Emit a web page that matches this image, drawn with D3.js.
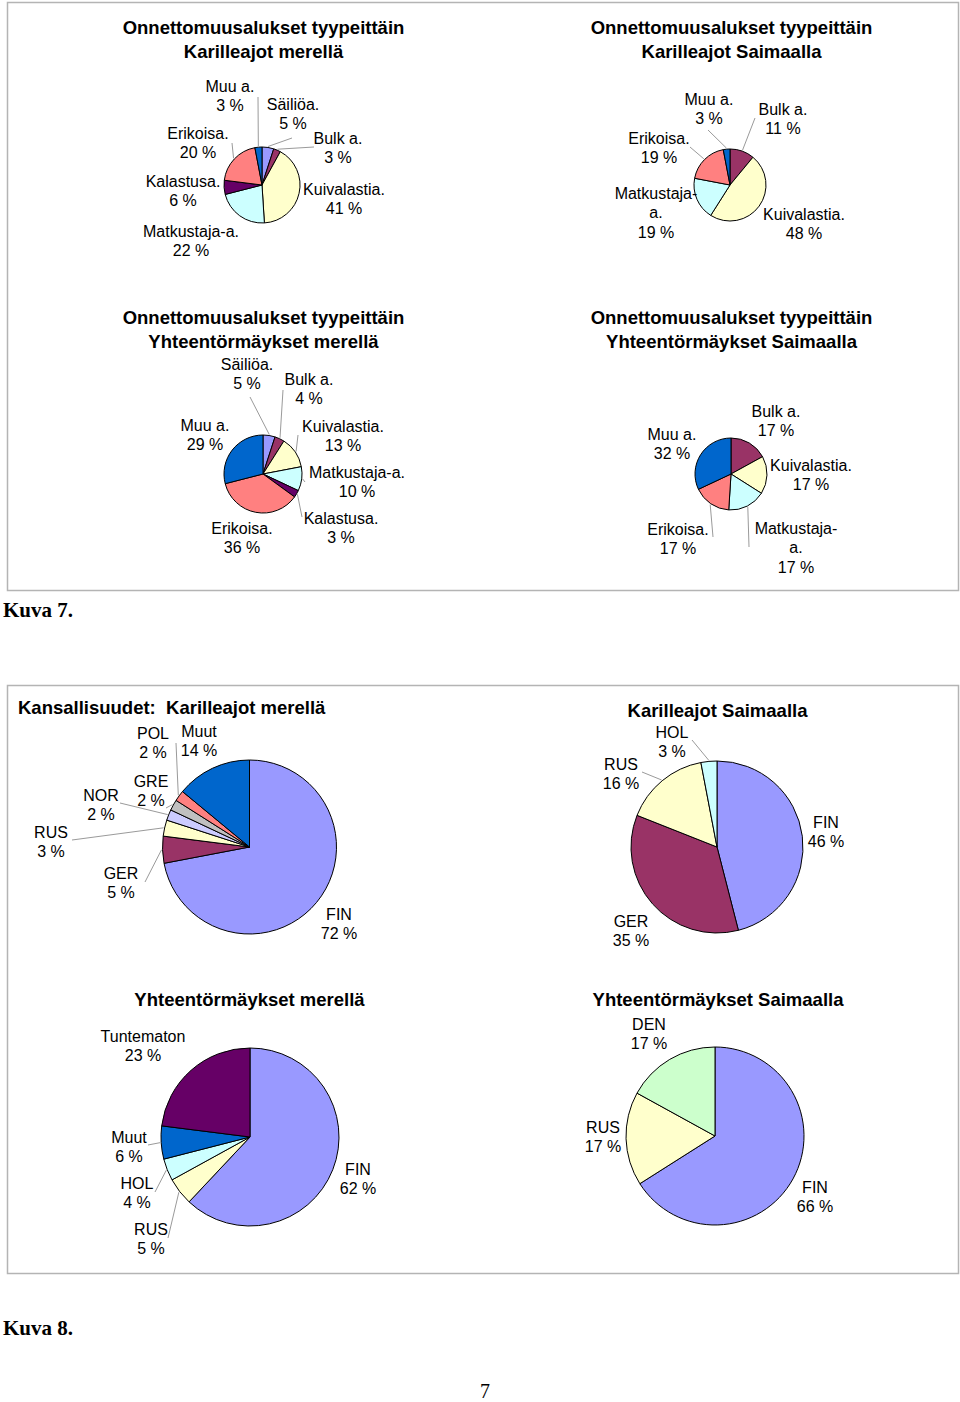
<!DOCTYPE html>
<html>
<head>
<meta charset="utf-8">
<script src="https://cdn.jsdelivr.net/npm/d3@7"></script>
<style>
  body { margin: 0; background: #fff; }
  svg { display: block; }
  text { font-family: "Liberation Sans", Arial, sans-serif; }
</style>
</head>
<body>
<div id="chart"></div>
<script>
// ---- data (percent shares) ----
var shipTypes1 = ["Säiliöa.", "Bulk a.", "Kuivalastia.", "Matkustaja-a.", "Kalastusa.", "Erikoisa.", "Muu a."];
var shipTypes2 = ["Bulk a.", "Kuivalastia.", "Matkustaja-a.", "Erikoisa.", "Muu a."];
var kariMeri = [5, 3, 41, 22, 6, 20, 3];
var kariSaimaa = [11, 48, 19, 19, 3];
var yhtMeri = [5, 4, 13, 10, 3, 36, 29];
var yhtSaimaa = [17, 17, 17, 17, 32];

var nat1 = ["FIN", "GER", "RUS", "NOR", "GRE", "POL", "Muut"];
var natKariMeri = [72, 5, 3, 2, 2, 2, 14];
var nat2 = ["FIN", "GER", "RUS", "HOL"];
var natKariSaimaa = [46, 35, 16, 3];
var nat3 = ["FIN", "RUS", "HOL", "Muut", "Tuntematon"];
var natYhtMeri = [62, 5, 4, 6, 23];
var nat4 = ["FIN", "RUS", "DEN"];
var natYhtSaimaa = [66, 17, 17];

// ---- colours ----
var typeColors1 = ["#9999ff", "#993366", "#ffffcc", "#ccffff", "#660066", "#ff8080", "#0066cc"];
var typeColors2 = ["#993366", "#ffffcc", "#ccffff", "#ff8080", "#0066cc"];
var natColors1 = ["#9999ff", "#993366", "#ffffcc", "#ccccff", "#c0c0c0", "#ff8080", "#0066cc"];
var natColors2 = ["#9999ff", "#993366", "#ffffcc", "#ccffff"];
var natColors3 = ["#9999ff", "#ffffcc", "#ccffff", "#0066cc", "#660066"];
var natColors4 = ["#9999ff", "#ffffcc", "#ccffcc"];

var W = 960, H = 1402;
var svg = d3.select("#chart").append("svg")
    .attr("width", W)
    .attr("height", H);

// frames round the two figures
svg.append("rect").attr("x", 7.5).attr("y", 2.5).attr("width", 951).attr("height", 588)
    .attr("fill", "none").attr("stroke", "#b4b4b4").attr("stroke-width", 1.5);
svg.append("rect").attr("x", 7.5).attr("y", 685.5).attr("width", 951).attr("height", 588)
    .attr("fill", "none").attr("stroke", "#b4b4b4").attr("stroke-width", 1.5);

// layout: pie centre/radius, titles and label spots (lead = where the leader line starts)
var charts = [
  {names: shipTypes1, values: kariMeri, colors: typeColors1, cx: 262, cy: 185, r: 38,
   title: ["Onnettomuusalukset tyypeittäin", "Karilleajot merellä"], tx: 263.5, ty: 28,
   labels: [{x: 293, y: 104, lead: [292, 138]}, {x: 338, y: 138, lead: [314, 147]}, {x: 344, y: 189},
            {x: 191, y: 231}, {x: 183, y: 181}, {x: 198, y: 133, lead: [232, 143]}, {x: 230, y: 86, lead: [258, 97]}]},
  {names: shipTypes2, values: kariSaimaa, colors: typeColors2, cx: 730, cy: 185, r: 36,
   title: ["Onnettomuusalukset tyypeittäin", "Karilleajot Saimaalla"], tx: 731.5, ty: 28,
   labels: [{x: 783, y: 109, lead: [755, 118]}, {x: 804, y: 214}, {x: 656, y: 193, split: true},
            {x: 659, y: 138, lead: [690, 147]}, {x: 709, y: 99, lead: [708, 130]}]},
  {names: shipTypes1, values: yhtMeri, colors: typeColors1, cx: 263, cy: 474, r: 39,
   title: ["Onnettomuusalukset tyypeittäin", "Yhteentörmäykset merellä"], tx: 263.5, ty: 318,
   labels: [{x: 247, y: 364, lead: [250, 397]}, {x: 309, y: 379, lead: [283, 390]}, {x: 343, y: 426, lead: [298, 435]},
            {x: 357, y: 472, lead: [305, 482]}, {x: 341, y: 518, lead: [302, 517]}, {x: 242, y: 528}, {x: 205, y: 425}]},
  {names: shipTypes2, values: yhtSaimaa, colors: typeColors2, cx: 731, cy: 474, r: 36,
   title: ["Onnettomuusalukset tyypeittäin", "Yhteentörmäykset Saimaalla"], tx: 731.5, ty: 318,
   labels: [{x: 776, y: 411}, {x: 811, y: 465}, {x: 796, y: 528, split: true, lead: [749, 547]},
            {x: 678, y: 529, lead: [713, 537]}, {x: 672, y: 434}]},
  {names: nat1, values: natKariMeri, colors: natColors1, cx: 249.5, cy: 847, r: 87,
   title: ["Kansallisuudet:  Karilleajot merellä"], tx: 18, ty: 708, anchor: "start",
   labels: [{x: 339, y: 914}, {x: 121, y: 873, lead: [145, 882]}, {x: 51, y: 832, lead: [72, 840]},
            {x: 101, y: 795, lead: [120, 803]}, {x: 151, y: 781, lead: [166, 808]}, {x: 153, y: 733, lead: [176, 743]},
            {x: 199, y: 731}]},
  {names: nat2, values: natKariSaimaa, colors: natColors2, cx: 717, cy: 847, r: 86,
   title: ["Karilleajot Saimaalla"], tx: 717.5, ty: 711,
   labels: [{x: 826, y: 822}, {x: 631, y: 921}, {x: 621, y: 764, lead: [642, 772]}, {x: 672, y: 732, lead: [692, 740]}]},
  {names: nat3, values: natYhtMeri, colors: natColors3, cx: 250, cy: 1137, r: 89,
   title: ["Yhteentörmäykset merellä"], tx: 249.5, ty: 1000,
   labels: [{x: 358, y: 1169}, {x: 151, y: 1229, lead: [168, 1238]}, {x: 137, y: 1183, lead: [155, 1192]},
            {x: 129, y: 1137, lead: [148, 1145]}, {x: 143, y: 1036}]},
  {names: nat4, values: natYhtSaimaa, colors: natColors4, cx: 715, cy: 1136, r: 89,
   title: ["Yhteentörmäykset Saimaalla"], tx: 718, ty: 1000,
   labels: [{x: 815, y: 1187}, {x: 603, y: 1127}, {x: 649, y: 1024}]}
];

var lineH = 19.5;

charts.forEach(function(c) {
  var g = svg.append("g");

  // title
  g.selectAll(".title")
    .data(c.title)
    .enter().append("text")
      .attr("x", c.tx)
      .attr("y", function(d, i) { return c.ty + i * 24; })
      .attr("dy", "0.35em")
      .attr("text-anchor", c.anchor || "middle")
      .style("white-space", "pre")
      .style("font-size", "18.5px")
      .style("font-weight", "bold")
      .text(function(d) { return d; });

  var pie = d3.pie().sort(null).value(function(d) { return d; });
  var arcs = pie(c.values);
  var arc = d3.arc().innerRadius(0).outerRadius(c.r);
  var edge = d3.arc().innerRadius(c.r + 1).outerRadius(c.r + 1);

  var pg = g.append("g").attr("transform", "translate(" + c.cx + "," + c.cy + ")");

  pg.selectAll("path")
    .data(arcs)
    .enter().append("path")
      .attr("d", arc)
      .attr("fill", function(d, i) { return c.colors[i]; })
      .attr("stroke", "#000")
      .attr("stroke-width", 1)
      .attr("stroke-linejoin", "round");

  // leader lines from label to slice edge
  arcs.forEach(function(a, i) {
    var lab = c.labels[i];
    if (!lab.lead) return;
    var p = edge.centroid(a);
    g.append("line")
      .attr("x1", lab.lead[0]).attr("y1", lab.lead[1])
      .attr("x2", c.cx + p[0]).attr("y2", c.cy + p[1])
      .attr("stroke", "#9a9a9a")
      .attr("stroke-width", 1);
  });

  // labels
  arcs.forEach(function(a, i) {
    var lab = c.labels[i];
    var name = c.names[i];
    var lines = lab.split ? [name.slice(0, name.indexOf("-") + 1), name.slice(name.indexOf("-") + 1)] : [name];
    lines.push(c.values[i] + " %");
    g.append("g").selectAll("text")
      .data(lines)
      .enter().append("text")
        .attr("x", lab.x)
        .attr("y", function(d, j) { return lab.y + j * lineH; })
        .attr("dy", "0.35em")
        .attr("text-anchor", "middle")
        .style("font-size", "16px")
        .text(function(d) { return d; });
  });
});

// captions and page number
svg.append("text").attr("x", 3).attr("y", 617)
    .style("font-family", "'Liberation Serif', 'Times New Roman', serif")
    .style("font-size", "21px").style("font-weight", "bold")
    .text("Kuva 7.");
svg.append("text").attr("x", 3).attr("y", 1335)
    .style("font-family", "'Liberation Serif', 'Times New Roman', serif")
    .style("font-size", "21px").style("font-weight", "bold")
    .text("Kuva 8.");
svg.append("text").attr("x", 485).attr("y", 1398)
    .attr("text-anchor", "middle")
    .style("font-family", "'Liberation Serif', 'Times New Roman', serif")
    .style("font-size", "20px")
    .text("7");
</script>
</body>
</html>
